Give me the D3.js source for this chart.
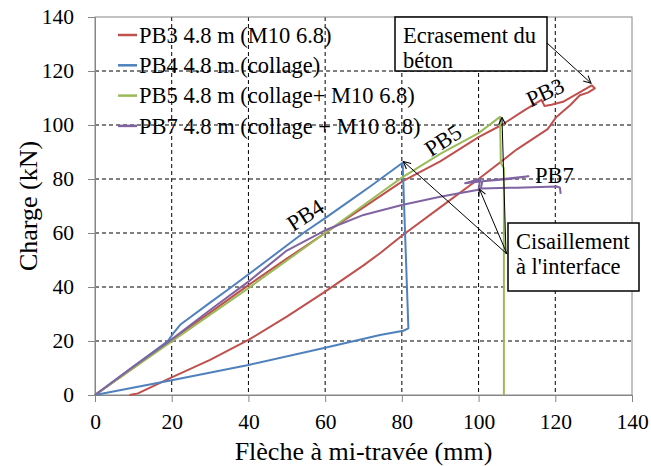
<!DOCTYPE html>
<html>
<head>
<meta charset="utf-8">
<script src="https://cdn.jsdelivr.net/npm/d3@7"></script>
<style>
    body { margin: 0; background: #fff; }
</style>
</head>
<body>
<div id="chart"></div>
<script>
// ticks
var xTicks = [0, 20, 40, 60, 80, 100, 120, 140];
var yTicks = [0, 20, 40, 60, 80, 100, 120, 140];

// legend
var seriesNames = ["PB3 4.8 m (M10 6.8)", "PB4 4.8 m (collage)", "PB5 4.8 m (collage+ M10 6.8)", "PB7 4.8 m (collage + M10 8.8)"];
var seriesColors = ["#C0504D", "#4F81BD", "#9BBB59", "#8064A2"];

// [fleche mm, charge kN]
var pb3 = [[0, 0], [5, 5], [10, 10], [20, 20.5], [30, 30.5], [40, 40.7], [50, 50.5], [60, 60], [70, 69.5], [80, 79],
    [90, 86.5], [100, 95.5], [106, 100], [112, 105.5], [116.4, 109.3], [117.2, 107], [119, 107.5], [122, 108.6],
    [126, 111.8], [129.5, 114.7], [130.3, 113.6], [128.5, 112], [126.4, 111], [124, 107.5], [120.3, 103], [118, 98.5],
    [110, 91], [100, 80], [90, 69.5], [80, 59], [74.3, 52.5], [70, 48], [60, 38.3], [50, 29], [40, 20.4], [30, 13],
    [20, 6.5], [13.4, 2.1], [11.2, 0.6], [9, 0]];
var pb4 = [[0, 0], [10, 10.5], [19, 20], [20.5, 23], [22.2, 26], [30, 34.2], [35.6, 40], [45, 50], [54.3, 60],
    [60, 65.5], [66.5, 72], [72, 77.5], [80.2, 86], [81.7, 24.7], [80.4, 23.8], [74.3, 22.2], [60, 17.5], [40, 11.1],
    [20, 5.5], [0, 0]];
var pb5 = [[0, 0], [20, 19.8], [40, 39.6], [60, 60], [74.3, 74.7], [80, 80.5], [90, 89.3], [100, 97], [105.6, 103],
    [105.8, 86], [106.6, 84], [106.6, 0]];
var pb7 = [[0, 0], [10, 10.5], [20, 20.6], [30, 31.5], [40, 42], [50, 53.5], [60, 61], [70, 66.7], [80, 70.4],
    [90, 73.4], [96, 75], [100, 76], [100.4, 80], [96.5, 78.4], [105, 79.8], [113, 81], [108, 80], [101, 79.2],
    [100.6, 76.5], [110, 76.8], [120.4, 77.2], [121.2, 76.8], [121.4, 74.5]];

var series = [pb3, pb4, pb5, pb7];

var serif = "'Liberation Serif', 'Times New Roman', 'DejaVu Serif', serif";

var width = 651, height = 466,
    pL = 95, pR = 632, pT = 17, pB = 395;

var svg = d3.select("#chart").append("svg")
    .attr("width", width).attr("height", height)
    .attr("font-family", serif);

var x = d3.scaleLinear().domain([0, 140]).range([pL, pR]);
var y = d3.scaleLinear().domain([0, 140]).range([pB, pT]);

// open arrow head
svg.append("defs").append("marker")
    .attr("id", "arrow")
    .attr("viewBox", "0 0 10 10")
    .attr("refX", 9).attr("refY", 5)
    .attr("markerWidth", 9).attr("markerHeight", 9)
    .attr("markerUnits", "userSpaceOnUse")
    .attr("orient", "auto")
    .append("path")
    .attr("d", "M1,1 L9,5 L1,9")
    .style("fill", "none")
    .style("stroke", "#000")
    .style("stroke-width", 1.2);

// dashed grid
svg.append("g").selectAll("line").data(yTicks.slice(1, -1)).enter().append("line")
    .attr("x1", pL).attr("x2", pR)
    .attr("y1", d => y(d)).attr("y2", d => y(d))
    .style("stroke", "#000").style("stroke-width", 1).style("stroke-dasharray", "4,3");
svg.append("g").selectAll("line").data(xTicks.slice(1, -1)).enter().append("line")
    .attr("y1", pT).attr("y2", pB)
    .attr("x1", d => x(d)).attr("x2", d => x(d))
    .style("stroke", "#000").style("stroke-width", 1).style("stroke-dasharray", "4,3");

svg.append("rect")
    .attr("x", pL).attr("y", pT)
    .attr("width", pR - pL).attr("height", pB - pT)
    .style("fill", "none").style("stroke", "#868686").style("stroke-width", 1);

// axes
var yAxis = svg.append("g")
    .attr("transform", "translate(" + pL + ",0)")
    .call(d3.axisLeft(y).tickValues(yTicks).tickSize(7).tickSizeOuter(0).tickPadding(14));
var xAxis = svg.append("g")
    .attr("transform", "translate(0," + pB + ")")
    .call(d3.axisBottom(x).tickValues(xTicks).tickSize(7).tickSizeOuter(0).tickPadding(12));

[xAxis, yAxis].forEach(function (a) {
    a.attr("font-family", serif).attr("font-size", 21.5);
    a.select(".domain").style("stroke", "#868686");
    a.selectAll(".tick line").style("stroke", "#868686");
    a.selectAll(".tick text")
        .style("font-family", serif)
        .style("font-size", "21.5px").style("fill", "#000");
});

// curves
var line = d3.line().x(d => x(d[0])).y(d => y(d[1]));
svg.append("g").selectAll("path").data(series).enter().append("path")
    .attr("d", line)
    .style("fill", "none")
    .style("stroke", (d, i) => seriesColors[i])
    .style("stroke-width", 2)
    .style("stroke-linejoin", "round");

// axis titles
svg.append("text")
    .attr("transform", "translate(28," + ((pT + pB) / 2) + ")rotate(-90)")
    .attr("text-anchor", "middle").attr("dy", "0.35em")
    .style("font-family", serif)
    .style("font-size", "26px")
    .text("Charge (kN)");
svg.append("text")
    .attr("x", (pL + pR) / 2).attr("y", 460)
    .attr("text-anchor", "middle")
    .style("font-family", serif)
    .style("font-size", "26px")
    .text("Flèche à mi-travée (mm)");

// legend
var leg = svg.append("g").selectAll("g").data(seriesNames).enter().append("g")
    .attr("transform", (d, i) => "translate(118," + (35 + i * 30.3) + ")");
leg.append("line")
    .attr("x1", 0).attr("x2", 19)
    .style("stroke", (d, i) => seriesColors[i]).style("stroke-width", 2.5);
leg.append("text")
    .attr("x", 21).attr("dy", "0.35em")
    .style("font-family", serif)
    .style("font-size", "22.5px")
    .text(d => d);

// curve labels
var curveLabels = [
    { t: "PB3", x: 117.3, y: 112.2, r: -25 },
    { t: "PB4", x: 54.8, y: 66.7, r: -33 },
    { t: "PB5", x: 90.7, y: 94.4, r: -33 },
    { t: "PB7", x: 114.7, y: 81.5, r: 0 }
];
svg.append("g").selectAll("text").data(curveLabels).enter().append("text")
    .attr("transform", d => "translate(" + x(d.x) + "," + y(d.y) + ")rotate(" + d.r + ")")
    .attr("text-anchor", d => d.r ? "middle" : "start")
    .attr("dy", "0.35em")
    .style("font-family", serif)
    .style("font-size", "22.5px")
    .text(d => d.t);

// annotation boxes
function callout(bx, by, bw, bh, lines) {
    svg.append("rect")
        .attr("x", bx).attr("y", by).attr("width", bw).attr("height", bh)
        .style("fill", "#fff").style("stroke", "#000").style("stroke-width", 1.5);
    svg.append("g").selectAll("text").data(lines).enter().append("text")
        .attr("x", bx + 8).attr("y", (d, i) => by + 18 + i * 25)
        .attr("dy", "0.35em")
        .style("font-family", serif)
        .style("font-size", "22.5px")
        .text(d => d);
}

function arrow(x1, y1, px, py) {
    svg.append("line")
        .attr("x1", x1).attr("y1", y1)
        .attr("x2", x(px)).attr("y2", y(py))
        .style("stroke", "#000").style("stroke-width", 1)
        .attr("marker-end", "url(#arrow)");
}

// Ecrasement du beton -> PB3 peak
arrow(547, 43, 129.3, 115.5);
callout(395, 17, 152, 54, ["Ecrasement du", "béton"]);

// Cisaillement -> PB4, PB7, PB5
arrow(507, 254, 80.4, 86.5);
arrow(507, 254, 100.2, 76.3);
arrow(506, 254, 106.1, 102.8);
callout(508, 223, 131, 68, ["Cisaillement", "à l'interface"]);
</script>
</body>
</html>
